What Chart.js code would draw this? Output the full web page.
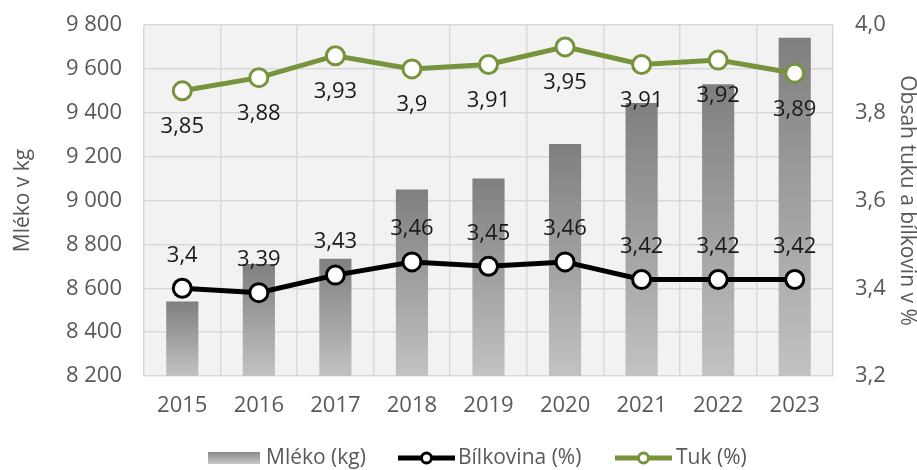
<!DOCTYPE html>
<html>
<head>
<meta charset="utf-8">
<script src="https://cdn.jsdelivr.net/npm/chart.js@4"></script>
<style>
  html, body { margin: 0; padding: 0; background: #ffffff; }
  #wrap { width: 917px; height: 470px; }
</style>
</head>
<body>
<div id="wrap"><canvas id="c" width="917" height="470"></canvas></div>
<script>
const years = ['2015', '2016', '2017', '2018', '2019', '2020', '2021', '2022', '2023'];
const mleko = [8540, 8710, 8735, 9050, 9100, 9258, 9445, 9530, 9742];
const bilkovina = [3.40, 3.39, 3.43, 3.46, 3.45, 3.46, 3.42, 3.42, 3.42];
const tuk = [3.85, 3.88, 3.93, 3.90, 3.91, 3.95, 3.91, 3.92, 3.89];
const leftTickValues = [8200, 8400, 8600, 8800, 9000, 9200, 9400, 9600, 9800];
const leftTickLabels = ['8 200', '8 400', '8 600', '8 800', '9 000', '9 200', '9 400', '9 600', '9 800'];
const rightTickValues = [3.2, 3.4, 3.6, 3.8, 4.0];
const rightTickLabels = ['3,2', '3,4', '3,6', '3,8', '4,0'];
const seriesNames = ['Mléko (kg)', 'Bílkovina (%)', 'Tuk (%)'];

const FONT = "'Open Sans', 'Noto Sans', sans-serif";
const TXT = '#595959';
const GRID = '#D9D9D9';
const GREEN = '#77933C';

function tickLabel(values, labels, v) {
  for (let i = 0; i < values.length; i++) {
    if (Math.abs(values[i] - v) < 1e-6) return labels[i];
  }
  return '';
}

function barGradient(c) {
  const chart = c.chart;
  const area = chart.chartArea;
  if (!area || c.type !== 'data' || !chart.scales.y) return '#9a9a9a';
  const top = chart.scales.y.getPixelForValue(c.raw);
  const g = chart.ctx.createLinearGradient(0, top, 0, area.bottom);
  g.addColorStop(0, '#7f7f7f');
  g.addColorStop(1, '#c2c2c2');
  return g;
}

const plotBg = {
  id: 'plotBg',
  beforeDraw(chart) {
    const { ctx, chartArea: a } = chart;
    ctx.save();
    ctx.fillStyle = '#F2F2F2';
    ctx.fillRect(a.left, a.top, a.right - a.left, a.bottom - a.top);
    ctx.restore();
  }
};

const dataLabels = {
  id: 'dataLabels',
  afterDatasetsDraw(chart) {
    const ctx = chart.ctx;
    ctx.save();
    ctx.font = '22px ' + FONT;
    ctx.fillStyle = '#1a1a1a';
    ctx.textAlign = 'center';
    ctx.textBaseline = 'middle';
    chart.data.datasets.forEach((ds, di) => {
      if (ds.type !== 'line') return;
      const meta = chart.getDatasetMeta(di);
      const off = ds.labelOffset;
      meta.data.forEach((pt, i) => {
        const txt = String(ds.data[i]).replace('.', ',');
        ctx.fillText(txt, pt.x, pt.y + off);
      });
    });
    ctx.restore();
  }
};

// legend item layout: symbol start, symbol width, text start
const legendSlots = [
  { sx: 208, sw: 52, tx: 266 },
  { sx: 398, sw: 57, tx: 458 },
  { sx: 615, sw: 57, tx: 676 }
];

const customLegend = {
  id: 'customLegend',
  afterDraw(chart) {
    const ctx = chart.ctx;
    ctx.save();
    ctx.font = '21px ' + FONT;
    const y = 458;
    seriesNames.forEach((name, i) => {
      const s = legendSlots[i];
      if (i === 0) {
        const g = ctx.createLinearGradient(0, y - 6, 0, y + 6);
        g.addColorStop(0, '#8a8a8a');
        g.addColorStop(1, '#c8c8c8');
        ctx.fillStyle = g;
        ctx.fillRect(s.sx, y - 6, s.sw, 12);
      } else {
        const col = i === 1 ? '#000000' : GREEN;
        ctx.strokeStyle = col;
        ctx.lineWidth = 5;
        ctx.beginPath();
        ctx.moveTo(s.sx, y);
        ctx.lineTo(s.sx + s.sw, y);
        ctx.stroke();
        ctx.beginPath();
        ctx.arc(s.sx + s.sw / 2, y, 5, 0, Math.PI * 2);
        ctx.fillStyle = '#ffffff';
        ctx.fill();
        ctx.lineWidth = 3;
        ctx.stroke();
      }
      ctx.fillStyle = TXT;
      ctx.textAlign = 'left';
      ctx.textBaseline = 'middle';
      ctx.fillText(name, s.tx, y);
    });
    ctx.restore();
  }
};

function noOverhang(s) {
  s.paddingTop = 0;
  s.paddingBottom = 0;
}

new Chart(document.getElementById('c'), {
  data: {
    labels: years,
    datasets: [
      {
        type: 'bar',
        label: seriesNames[0],
        data: mleko,
        yAxisID: 'y',
        backgroundColor: barGradient,
        categoryPercentage: 1.0,
        barPercentage: 0.42,
        order: 3
      },
      {
        type: 'line',
        label: seriesNames[1],
        data: bilkovina,
        yAxisID: 'y1',
        borderColor: '#000000',
        borderWidth: 5,
        pointRadius: 9,
        pointBorderWidth: 3,
        pointBackgroundColor: '#ffffff',
        pointBorderColor: '#000000',
        labelOffset: -33,
        order: 2
      },
      {
        type: 'line',
        label: seriesNames[2],
        data: tuk,
        yAxisID: 'y1',
        borderColor: GREEN,
        borderWidth: 5,
        pointRadius: 9,
        pointBorderWidth: 3,
        pointBackgroundColor: '#ffffff',
        pointBorderColor: GREEN,
        labelOffset: 36,
        order: 1
      }
    ]
  },
  options: {
    responsive: false,
    animation: false,
    layout: { padding: { top: 25, left: 0, right: 0, bottom: 0 } },
    plugins: {
      legend: { display: false },
      tooltip: { enabled: false }
    },
    scales: {
      x: {
        grid: { color: GRID, lineWidth: 1.5, drawTicks: false, offset: true },
        border: { display: false },
        ticks: { color: TXT, font: { family: FONT, size: 22 }, padding: 17 },
        afterFit(s) { s.height = 94; s.paddingLeft = 0; s.paddingRight = 0; }
      },
      y: {
        position: 'left',
        min: 8200, max: 9800,
        grid: { color: GRID, lineWidth: 1.5, drawTicks: false },
        border: { display: false },
        afterBuildTicks(s) { s.ticks = leftTickValues.map(v => ({ value: v })); },
        ticks: {
          color: TXT, font: { family: FONT, size: 22 }, padding: 22,
          callback: v => tickLabel(leftTickValues, leftTickLabels, v)
        },
        title: {
          display: true, text: 'Mléko v kg', color: TXT,
          font: { family: FONT, size: 21, lineHeight: 1 }, padding: { top: 13, bottom: 0 }
        },
        afterFit(s) { s.width = 144; noOverhang(s); }
      },
      y1: {
        position: 'right',
        min: 3.2, max: 4.0,
        grid: { display: false, drawOnChartArea: false, drawTicks: false },
        border: { display: false },
        afterBuildTicks(s) { s.ticks = rightTickValues.map(v => ({ value: v })); },
        ticks: {
          color: TXT, font: { family: FONT, size: 22 }, padding: 22,
          callback: v => tickLabel(rightTickValues, rightTickLabels, v)
        },
        title: {
          display: true, text: 'Obsah tuku a bílkovin v %', color: TXT,
          font: { family: FONT, size: 21, lineHeight: 1 }, padding: { top: 0, bottom: 0 }
        },
        afterFit(s) { s.width = 84; noOverhang(s); }
      }
    }
  },
  plugins: [plotBg, dataLabels, customLegend]
});
</script>
</body>
</html>
